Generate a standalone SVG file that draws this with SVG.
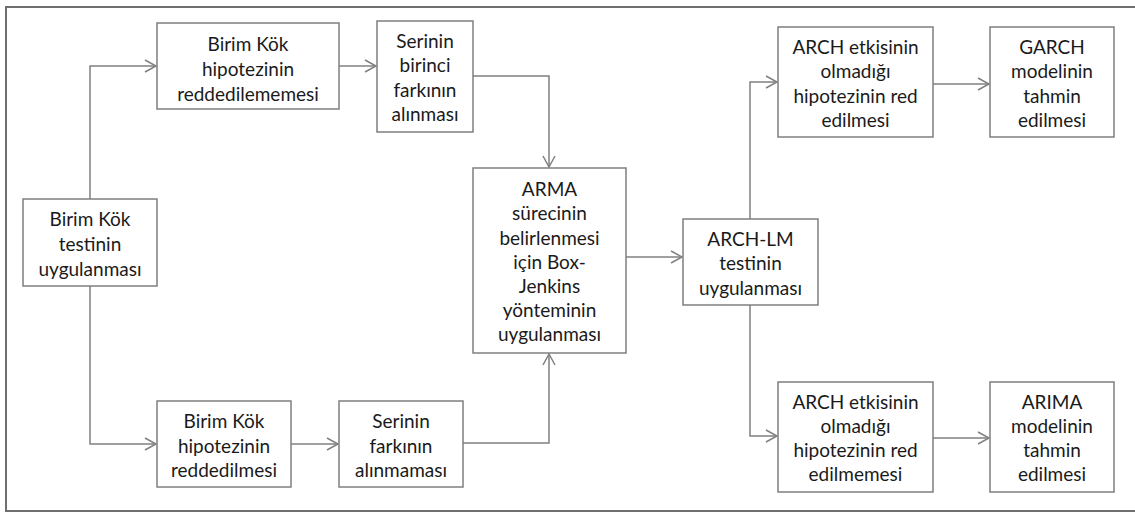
<svg xmlns="http://www.w3.org/2000/svg" width="1135" height="514" viewBox="0 0 1135 514">
<style>
.box{fill:#fff;stroke:#7f7f7f;stroke-width:1.5}
.t{font-family:Lato,"Open Sans",sans-serif;font-size:19px;fill:#1a1a1a;text-anchor:middle;dominant-baseline:central}
.c{fill:none;stroke:#808080;stroke-width:1.5}
</style>
<defs>
<marker id="ah" markerWidth="14" markerHeight="14" refX="12" refY="7" orient="auto" markerUnits="userSpaceOnUse">
<path d="M1,1 L12,7 L1,13" fill="none" stroke="#808080" stroke-width="1.5"/>
</marker>
</defs>
<rect x="6" y="7" width="1140" height="504" fill="#fff" stroke="#6f6f6f" stroke-width="2"/>
<g id="connectors">
<path class="c" d="M90,199 V66 H156" marker-end="url(#ah)"/>
<path class="c" d="M339,66 H376" marker-end="url(#ah)"/>
<path class="c" d="M473,76 H549 V167" marker-end="url(#ah)"/>
<path class="c" d="M90,286 V444 H156" marker-end="url(#ah)"/>
<path class="c" d="M291,444 H338" marker-end="url(#ah)"/>
<path class="c" d="M463,443 H549 V354" marker-end="url(#ah)"/>
<path class="c" d="M626,257 H682" marker-end="url(#ah)"/>
<path class="c" d="M750,219 V82 H777" marker-end="url(#ah)"/>
<path class="c" d="M750,305 V436 H777" marker-end="url(#ah)"/>
<path class="c" d="M933,84 H989" marker-end="url(#ah)"/>
<path class="c" d="M933,438 H989" marker-end="url(#ah)"/>
</g>
<g id="n1"><rect class="box" x="23" y="199" width="134" height="87"/>
<text class="t" x="90" y="218">Birim Kök</text><text class="t" x="90" y="243">testinin</text><text class="t" x="90" y="268">uygulanması</text></g>
<g id="n2"><rect class="box" x="157" y="23" width="182" height="86"/>
<text class="t" x="248" y="43">Birim Kök</text><text class="t" x="248" y="68">hipotezinin</text><text class="t" x="248" y="93">reddedilememesi</text></g>
<g id="n3"><rect class="box" x="377" y="21" width="96" height="111"/>
<text class="t" x="425" y="40">Serinin</text><text class="t" x="425" y="64">birinci</text><text class="t" x="425" y="89">farkının</text><text class="t" x="425" y="113">alınması</text></g>
<g id="n4"><rect class="box" x="157" y="401" width="134" height="86"/>
<text class="t" x="224" y="420">Birim Kök</text><text class="t" x="224" y="445">hipotezinin</text><text class="t" x="224" y="469">reddedilmesi</text></g>
<g id="n5"><rect class="box" x="339" y="401" width="124" height="86"/>
<text class="t" x="401" y="420">Serinin</text><text class="t" x="401" y="445">farkının</text><text class="t" x="401" y="469">alınmaması</text></g>
<g id="n6"><rect class="box" x="473" y="168" width="153" height="185"/>
<text class="t" x="549.5" y="188">ARMA</text><text class="t" x="549.5" y="212">sürecinin</text><text class="t" x="549.5" y="237">belirlenmesi</text><text class="t" x="549.5" y="261">için Box-</text><text class="t" x="549.5" y="285">Jenkins</text><text class="t" x="549.5" y="309">yönteminin</text><text class="t" x="549.5" y="333">uygulanması</text></g>
<g id="n7"><rect class="box" x="683" y="219" width="135" height="86"/>
<text class="t" x="750.5" y="238">ARCH-LM</text><text class="t" x="750.5" y="262">testinin</text><text class="t" x="750.5" y="287">uygulanması</text></g>
<g id="n8"><rect class="box" x="778" y="27" width="155" height="110"/>
<text class="t" x="855.5" y="46">ARCH etkisinin</text><text class="t" x="855.5" y="70">olmadığı</text><text class="t" x="855.5" y="95">hipotezinin red</text><text class="t" x="855.5" y="119">edilmesi</text></g>
<g id="n9"><rect class="box" x="990" y="27" width="124" height="110"/>
<text class="t" x="1052" y="46">GARCH</text><text class="t" x="1052" y="70">modelinin</text><text class="t" x="1052" y="95">tahmin</text><text class="t" x="1052" y="119">edilmesi</text></g>
<g id="n10"><rect class="box" x="778" y="382" width="155" height="110"/>
<text class="t" x="855.5" y="401">ARCH etkisinin</text><text class="t" x="855.5" y="425">olmadığı</text><text class="t" x="855.5" y="449">hipotezinin red</text><text class="t" x="855.5" y="473">edilmemesi</text></g>
<g id="n11"><rect class="box" x="990" y="382" width="124" height="110"/>
<text class="t" x="1052" y="401">ARIMA</text><text class="t" x="1052" y="425">modelinin</text><text class="t" x="1052" y="449">tahmin</text><text class="t" x="1052" y="473">edilmesi</text></g>
</svg>
